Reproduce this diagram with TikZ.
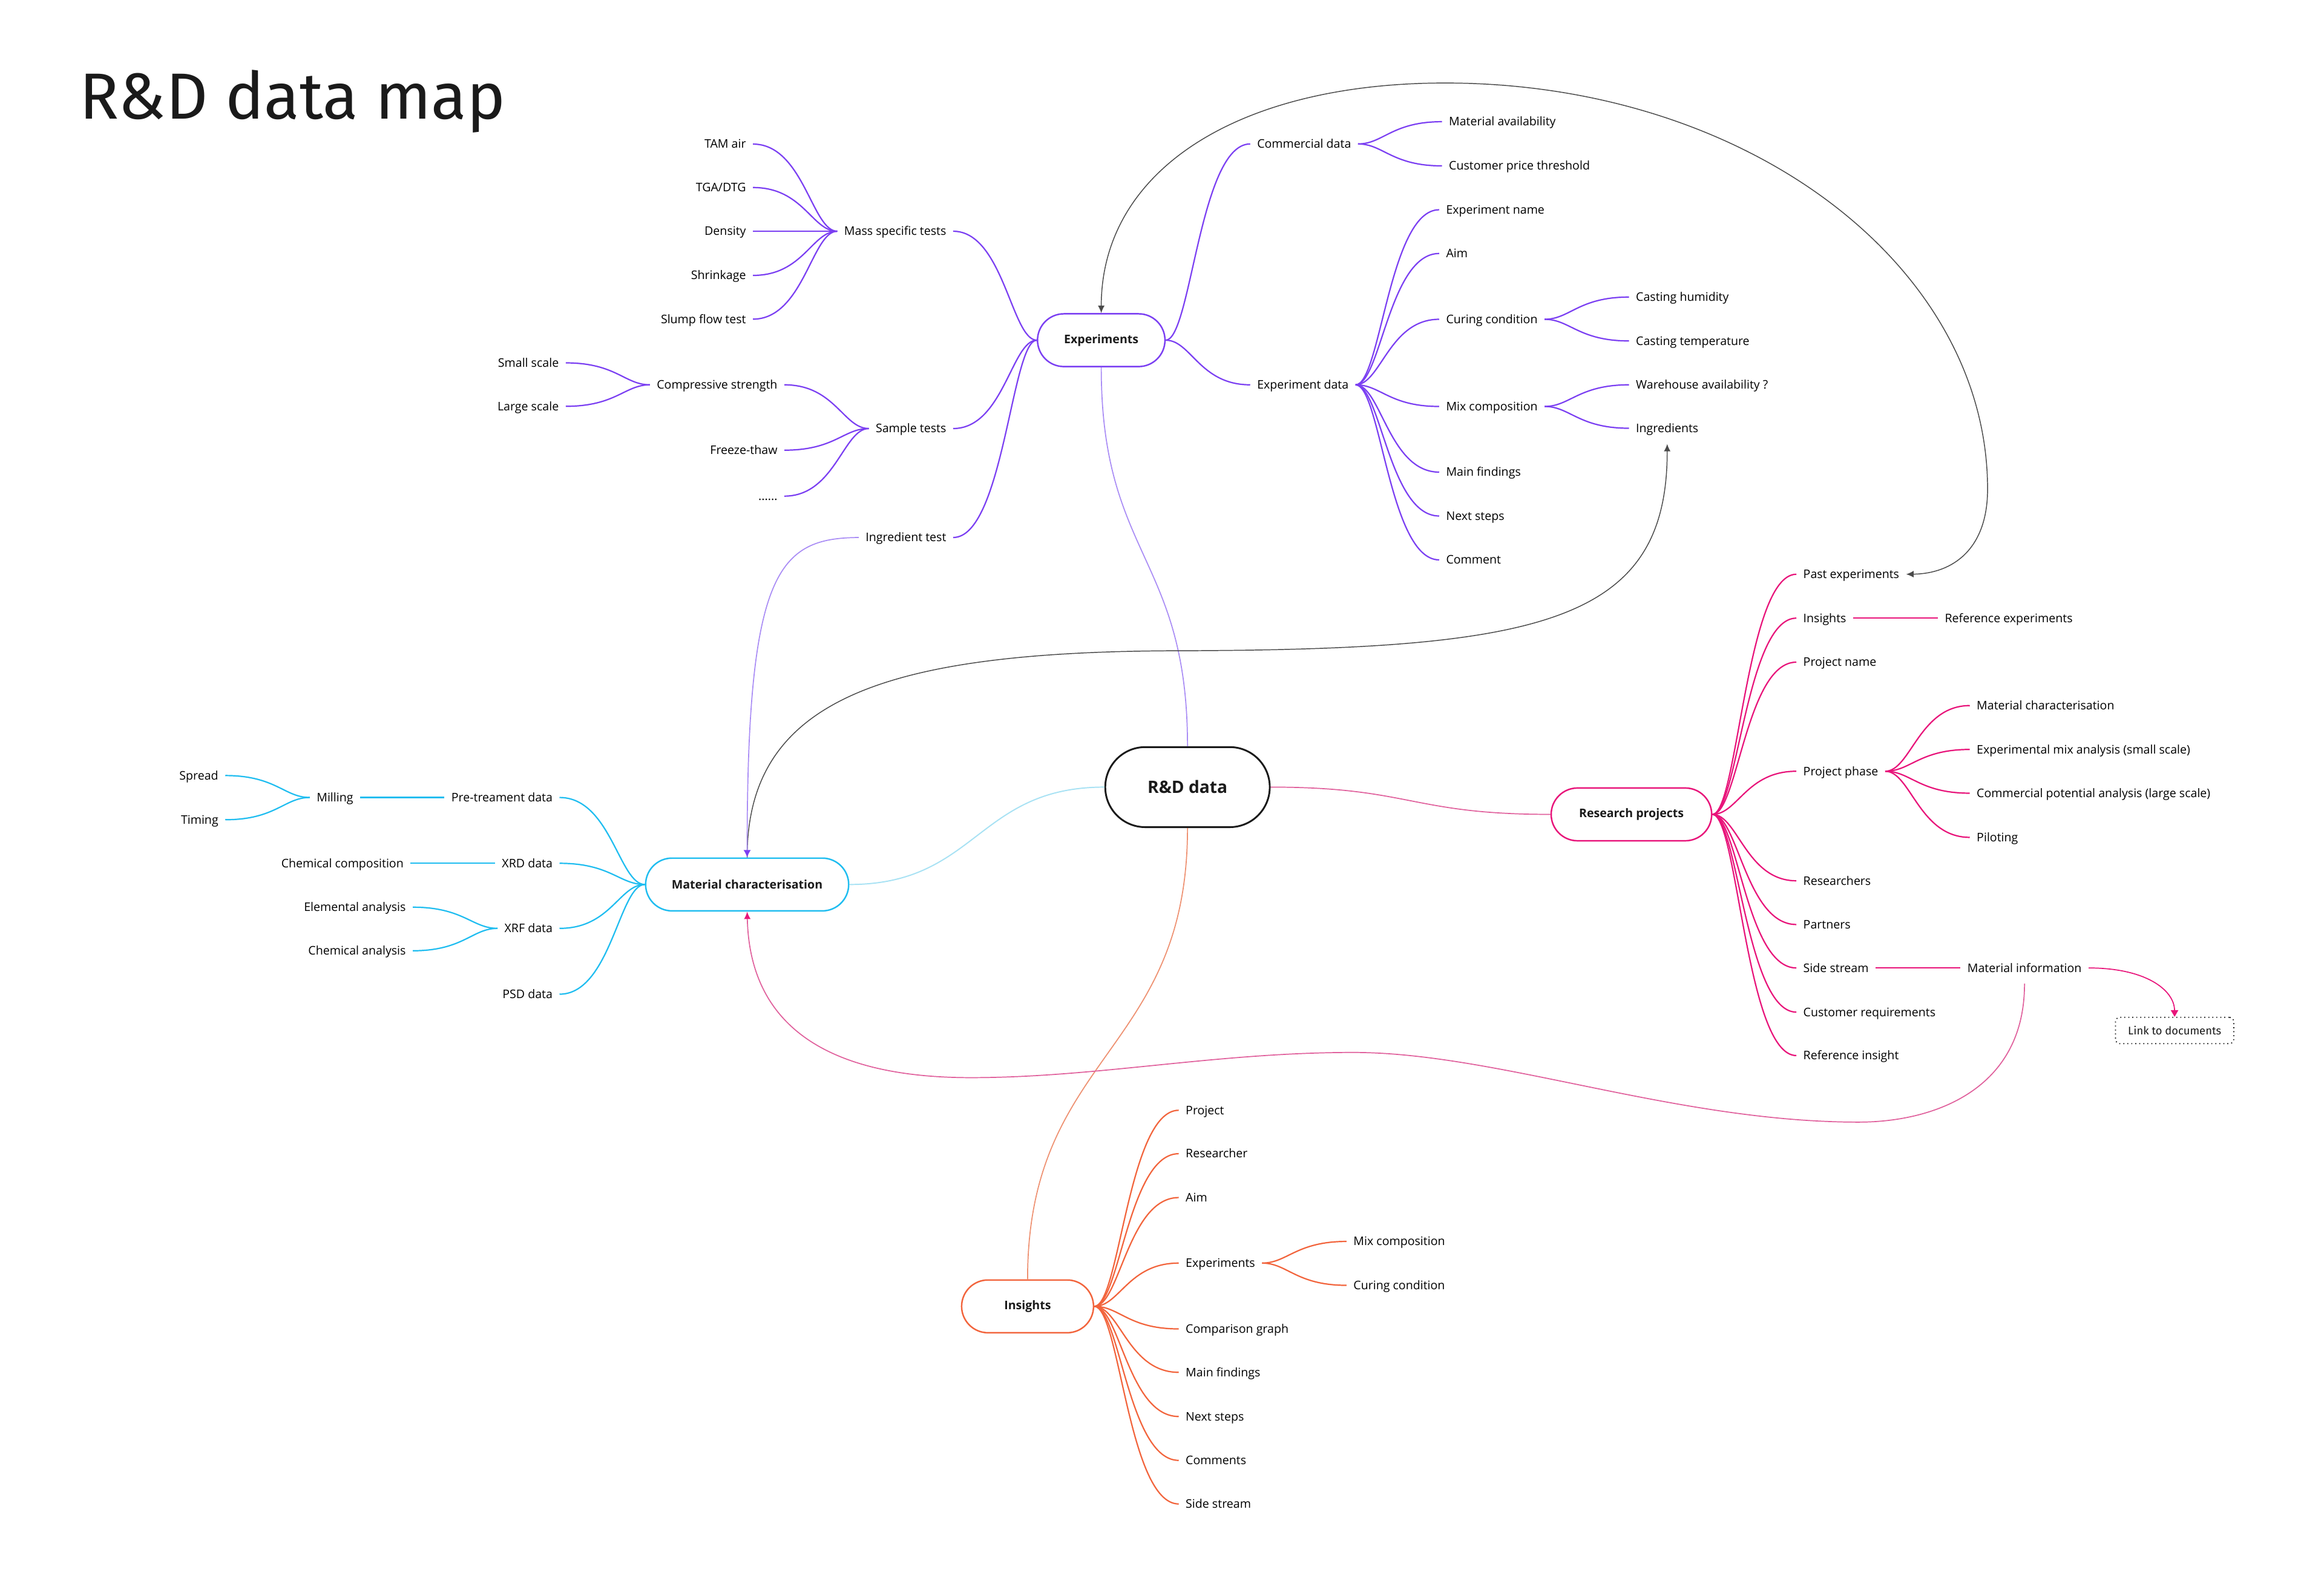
\documentclass[tikz,border=0pt]{standalone}
\usepackage{fontspec}
\setmainfont{Open Sans}
\newfontfamily\titlefont{Fira Sans}
\usetikzlibrary{calc,arrows.meta,shapes.misc}

\definecolor{cP}{HTML}{7B3FF2}
\definecolor{cPl}{HTML}{A98CF5}
\definecolor{cC}{HTML}{1FBDF0}
\definecolor{cCl}{HTML}{A8E2F4}
\definecolor{cM}{HTML}{E8147A}
\definecolor{cMl}{HTML}{E0609C}
\definecolor{cO}{HTML}{F2643C}
\definecolor{cOl}{HTML}{EE9070}
\definecolor{cG}{HTML}{4A4A4A}
\definecolor{cK}{HTML}{1A1A1A}

\tikzset{
  lbl/.style={font=\fontsize{8}{9.6}\selectfont, inner xsep=4.5pt, inner ysep=1pt, text height=7.2pt, text depth=1.6pt},
  pill/.style={rounded rectangle, draw, fill=white, line width=1pt, font=\bfseries\fontsize{8}{9.6}\selectfont, minimum height=35.6pt, inner xsep=0pt, text=cK},
  br/.style={to path={let \p1=(\tikztostart),\p2=(\tikztotarget),\n1={0.3*(\x2-\x1)},\n2={0.6*(\x2-\x1)} in .. controls ({\x1+\n1},\y1) and ({\x2-\n2},\y2) .. (\tikztotarget)}},
  hs/.style={to path={let \p1=(\tikztostart),\p2=(\tikztotarget),\n1={0.5*(\x2-\x1)} in .. controls ({\x1+\n1},\y1) and ({\x2-\n1},\y2) .. (\tikztotarget)}},
  vs/.style={to path={let \p1=(\tikztostart),\p2=(\tikztotarget),\n1={0.5*(\y2-\y1)} in .. controls (\x1,{\y1+\n1}) and (\x2,{\y2-\n1}) .. (\tikztotarget)}},
  bP/.style={cP, line width=0.9pt},
  bC/.style={cC, line width=0.9pt},
  bM/.style={cM, line width=0.9pt},
  bO/.style={cO, line width=0.9pt},
  glink/.style={cG, line width=0.6pt},
  tipG/.style={-{Latex[length=5pt,width=4.5pt]}},
}

\begin{document}
\begin{tikzpicture}[x=1pt,y=-1pt]
\fill[white] (0,0) rectangle (1568,1068.2);
\useasboundingbox (0,0) rectangle (1568,1068.2);

% title
\node[anchor=base west, inner sep=0pt, font=\titlefont\fontsize{44}{50}\selectfont, text=cK] (title) at (53.5,80.2) {R\&D data map};

% ---------- central ----------
\node[pill, draw=cK, line width=1.2pt, minimum width=111pt, minimum height=54pt, font=\bfseries\fontsize{11.5}{13}\selectfont] (rd) at (801.2,531) {R\&D data};

% ---------- Experiments (purple) ----------
\node[pill, draw=cP, minimum width=86pt] (exp) at (743,229.5) {Experiments};

\node[lbl, anchor=east] (mst) at (643.1,156) {Mass specific tests};
\node[lbl, anchor=east] (st) at (643.1,289.1) {Sample tests};
\node[lbl, anchor=east] (it) at (643.1,362.6) {Ingredient test};

\node[lbl, anchor=east] (tam) at (508,97.2) {TAM air};
\node[lbl, anchor=east] (tga) at (508,126.5) {TGA/DTG};
\node[lbl, anchor=east] (den) at (508,156) {Density};
\node[lbl, anchor=east] (shr) at (508,185.8) {Shrinkage};
\node[lbl, anchor=east] (slump) at (508,215.3) {Slump flow test};

\node[lbl, anchor=east] (cs) at (529.2,259.6) {Compressive strength};
\node[lbl, anchor=east] (ft) at (529.2,303.7) {Freeze-thaw};
\node[lbl, anchor=east] (dots) at (529.2,334.7) {......};

\node[lbl, anchor=east] (ss) at (381.7,244.8) {Small scale};
\node[lbl, anchor=east] (ls) at (381.7,274.1) {Large scale};

\node[lbl, anchor=west] (cd) at (843.5,97.1) {Commercial data};
\node[lbl, anchor=west] (ed) at (843.5,259.6) {Experiment data};

\node[lbl, anchor=west] (ma) at (972.9,82.1) {Material availability};
\node[lbl, anchor=west] (cpt) at (972.9,111.9) {Customer price threshold};

\node[lbl, anchor=west] (en) at (971,141.5) {Experiment name};
\node[lbl, anchor=west] (aim) at (971,171) {Aim};
\node[lbl, anchor=west] (cc) at (971,215.4) {Curing condition};
\node[lbl, anchor=west] (mix) at (971,274.2) {Mix composition};
\node[lbl, anchor=west] (mf) at (971,318.5) {Main findings};
\node[lbl, anchor=west] (ns) at (971,348.1) {Next steps};
\node[lbl, anchor=west] (com) at (971,377.7) {Comment};

\node[lbl, anchor=west] (ch) at (1099.1,200.4) {Casting humidity};
\node[lbl, anchor=west] (ct) at (1099.1,230) {Casting temperature};
\node[lbl, anchor=west] (wa) at (1099.1,259.6) {Warehouse availability ?};
\node[lbl, anchor=west] (ing) at (1099.1,288.9) {Ingredients};

% ---------- Material characterisation (cyan) ----------
\node[pill, draw=cC, minimum width=137pt] (mc) at (504.1,596.7) {Material characterisation};

\node[lbl, anchor=east] (ptd) at (377.5,538) {Pre-treament data};
\node[lbl, anchor=east] (xrd) at (377.5,582.4) {XRD data};
\node[lbl, anchor=east] (xrf) at (377.5,626.3) {XRF data};
\node[lbl, anchor=east] (psd) at (377.5,670.7) {PSD data};

\node[lbl, anchor=east] (mill) at (243,538) {Milling};
\node[lbl, anchor=east] (spread) at (152,523.2) {Spread};
\node[lbl, anchor=east] (timing) at (152,553) {Timing};
\node[lbl, anchor=east] (chemcomp) at (277,582.4) {Chemical composition};
\node[lbl, anchor=east] (ea) at (278.5,612) {Elemental analysis};
\node[lbl, anchor=east] (ca) at (278.5,641.4) {Chemical analysis};

% ---------- Research projects (magenta) ----------
\node[pill, draw=cM, minimum width=108.3pt] (rp) at (1100.7,549.4) {Research projects};

\node[lbl, anchor=west] (pe) at (1212,387.4) {Past experiments};
\node[lbl, anchor=west] (insR) at (1212,417) {Insights};
\node[lbl, anchor=west] (pn) at (1212,446.7) {Project name};
\node[lbl, anchor=west] (pp) at (1212,520.3) {Project phase};
\node[lbl, anchor=west] (res) at (1212,594.2) {Researchers};
\node[lbl, anchor=west] (par) at (1212,623.7) {Partners};
\node[lbl, anchor=west] (sst) at (1212,653) {Side stream};
\node[lbl, anchor=west] (cr) at (1212,682.8) {Customer requirements};
\node[lbl, anchor=west] (ri) at (1212,712.1) {Reference insight};

\node[lbl, anchor=west] (re) at (1307.5,417) {Reference experiments};
\node[lbl, anchor=west] (mch) at (1329,476) {Material characterisation};
\node[lbl, anchor=west] (ema) at (1329,505.6) {Experimental mix analysis (small scale)};
\node[lbl, anchor=west] (cpa) at (1329,535.1) {Commercial potential analysis (large scale)};
\node[lbl, anchor=west] (pil) at (1329,564.9) {Piloting};
\node[lbl, anchor=west] (mi) at (1322.7,653) {Material information};

\node[draw=cK, dotted, line width=0.7pt, rounded corners=3pt, minimum width=79.8pt, minimum height=17.8pt, inner sep=0pt, font=\titlefont\fontsize{7.5}{9}\selectfont, text=cK] (ld) at (1467.2,695.2) {Link to documents};

% ---------- Insights (orange) ----------
\node[pill, draw=cO, minimum width=89pt] (ins) at (693.3,881.3) {Insights};

\node[lbl, anchor=west] (proj) at (795.3,749) {Project};
\node[lbl, anchor=west] (rsr) at (795.3,778.3) {Researcher};
\node[lbl, anchor=west] (aimI) at (795.3,807.9) {Aim};
\node[lbl, anchor=west] (expI) at (795.3,852.1) {Experiments};
\node[lbl, anchor=west] (cg) at (795.3,896.5) {Comparison graph};
\node[lbl, anchor=west] (mfI) at (795.3,925.8) {Main findings};
\node[lbl, anchor=west] (nsI) at (795.3,955.6) {Next steps};
\node[lbl, anchor=west] (comI) at (795.3,985.2) {Comments};
\node[lbl, anchor=west] (ssI) at (795.3,1014.6) {Side stream};

\node[lbl, anchor=west] (mixI) at (908.5,837.5) {Mix composition};
\node[lbl, anchor=west] (ccI) at (908.5,867.1) {Curing condition};

% ================= connectors =================
% main
\draw[cPl, line width=0.7pt] (rd.north) to[vs] (exp.south);
\draw[cCl, line width=0.8pt] (rd.west) to[hs] (mc.east);
\draw[cMl, line width=0.7pt] (rd.east) to[hs] (rp.west);
\draw[cOl, line width=0.7pt] (rd.south) to[vs] (ins.north);

% purple branches
\foreach \c in {mst,st,it} \draw[bP] (exp.west) to[br] (\c.east);
\foreach \c in {tam,tga,den,shr,slump} \draw[bP] (mst.west) to[br] (\c.east);
\foreach \c in {cs,ft,dots} \draw[bP] (st.west) to[br] (\c.east);
\foreach \c in {ss,ls} \draw[bP] (cs.west) to[br] (\c.east);
\foreach \c in {cd,ed} \draw[bP] (exp.east) to[br] (\c.west);
\foreach \c in {ma,cpt} \draw[bP] (cd.east) to[br] (\c.west);
\foreach \c in {en,aim,cc,mix,mf,ns,com} \draw[bP] (ed.east) to[br] (\c.west);
\foreach \c in {ch,ct} \draw[bP] (cc.east) to[br] (\c.west);
\foreach \c in {wa,ing} \draw[bP] (mix.east) to[br] (\c.west);

% cyan branches
\foreach \c in {ptd,xrd,xrf,psd} \draw[bC] (mc.west) to[br] (\c.east);
\draw[bC] (ptd.west) to[br] (mill.east);
\foreach \c in {spread,timing} \draw[bC] (mill.west) to[br] (\c.east);
\draw[bC] (xrd.west) to[br] (chemcomp.east);
\foreach \c in {ea,ca} \draw[bC] (xrf.west) to[br] (\c.east);

% magenta branches
\foreach \c in {pe,insR,pn,pp,res,par,sst,cr,ri} \draw[bM] (rp.east) to[br] (\c.west);
\draw[bM] (insR.east) to[br] (re.west);
\foreach \c in {mch,ema,cpa,pil} \draw[bM] (pp.east) to[br] (\c.west);
\draw[bM] (sst.east) to[br] (mi.west);

% orange branches
\foreach \c in {proj,rsr,aimI,expI,cg,mfI,nsI,comI,ssI} \draw[bO] (ins.east) to[br] (\c.west);
\foreach \c in {mixI,ccI} \draw[bO] (expI.east) to[br] (\c.west);

% ---------- cross links ----------
\draw[glink, {Latex[length=5pt,width=4.5pt]}-{Latex[length=5pt,width=4.5pt]}]
  (exp.north) .. controls (743,115) and (835,56) .. (975,56)
  .. controls (1180,56) and (1341,180) .. (1341,330)
  .. controls (1341,370) and (1318,387) .. (pe.east);

\draw[glink, tipG]
  (mc.north) .. controls (504,470) and (600,439) .. (800,439)
  .. controls (1040,438) and (1125,420) .. ($(ing.south)+(0,5)$);

\draw[cPl, line width=0.7pt, -{Latex[length=5pt,width=5pt,color=cP]}]
  (it.west) .. controls (525,363) and (504,385) .. (mc.north);

\draw[cMl, line width=0.7pt, -{Latex[length=5pt,width=4.5pt,color=cM]}]
  ($(mi.south)+(0,5)$) .. controls (1366,735) and (1305,757) .. (1254,757)
  .. controls (1130,757) and (1010,710) .. (913,710)
  .. controls (820,710) and (740,727) .. (655,727)
  .. controls (570,727) and (506,700) .. (mc.south);

\draw[cM, line width=0.7pt, -{Triangle[length=4.5pt,width=5pt]}]
  (mi.east) .. controls (1448,653) and (1467,668) .. (ld.north);

\end{tikzpicture}
\end{document}
